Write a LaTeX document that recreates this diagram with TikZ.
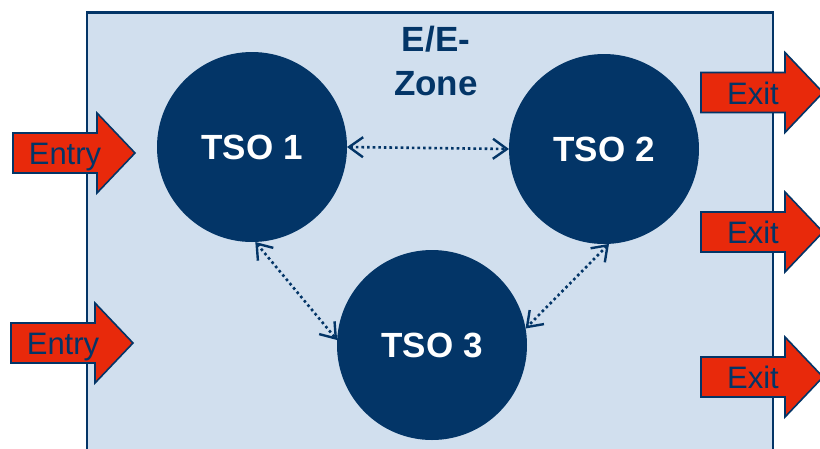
\documentclass[tikz,border=0pt]{standalone}
\usepackage{fontspec}
\setmainfont{Liberation Sans}
\usetikzlibrary{arrows.meta}
\definecolor{dblue}{RGB}{3,53,103}
\definecolor{lblue}{RGB}{209,223,238}
\definecolor{ared}{RGB}{232,41,11}
\newcommand\bigarrowat[4]{%
  \draw[bigarrow] (#1-122,#2-20) -- (#1-38,#2-20) -- (#1-38,#2-40) -- (#1,#2)
    -- (#1-38,#2+40) -- (#1-38,#2+20) -- (#1-122,#2+20) -- cycle;
  \node[arrowtext] (#3) at (#1-70,#2+11.5) {#4};}
\begin{document}
\begin{tikzpicture}[x=1pt,y=-1pt,
  bigarrow/.style={fill=ared,draw=dblue,line width=1.6pt,line join=miter},
  arrowtext/.style={anchor=base,text=dblue,font=\fontsize{31}{36}\selectfont,inner sep=0pt},
  tso/.style={circle,fill=dblue,minimum size=190pt,inner sep=0pt,outer sep=0pt,text=white,font=\bfseries\fontsize{35}{40}\selectfont},
  link/.style={draw=dblue,line width=2.6pt,dash pattern=on 2.6pt off 3pt,
    {Straight Barb[length=14pt,width=20pt,line width=2.4pt,sep=0pt]}-{Straight Barb[length=14pt,width=20pt,line width=2.4pt,sep=0pt]}}]
\useasboundingbox (0,0) rectangle (820,448);
\fill[white] (0,0) rectangle (820,448);
\draw[fill=lblue,draw=dblue,line width=2.5pt] (87,12.5) rectangle (773,460);
\node[text=dblue,font=\bfseries\fontsize{35}{44}\selectfont,align=center,anchor=base] (zone) at (436,95) {E/E-\\Zone};
\node[tso] (t1) at (252,147) {TSO 1};
\node[tso] (t2) at (604,149) {TSO 2};
\node[tso] (t3) at (432,345) {TSO 3};
\draw[link] (t1.0) -- (t2.180);
\draw[link] (t1.-88) -- (t3.177);
\draw[link] (t2.-87.5) -- (t3.10);
\bigarrowat{135}{153}{en1}{Entry}
\bigarrowat{133}{343}{en2}{Entry}
\bigarrowat{823}{92.5}{ex1}{Exit}
\bigarrowat{823}{232}{ex2}{Exit}
\bigarrowat{823}{377}{ex3}{Exit}
\end{tikzpicture}
\end{document}
